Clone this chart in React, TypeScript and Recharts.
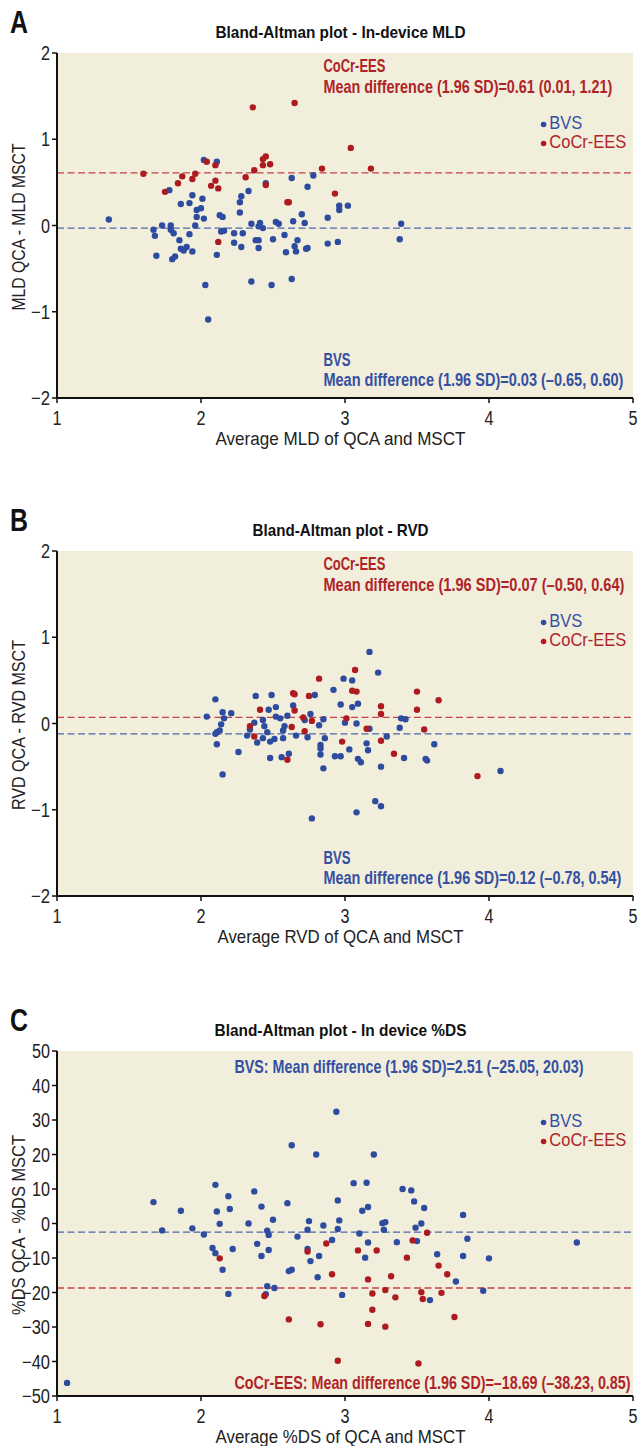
import React from 'react';
import { ScatterChart, Scatter, XAxis, YAxis, CartesianGrid, ReferenceLine, Customized } from 'recharts';

type Pt = [number, number];

const BLUE = '#2D4B9F';
const RED = '#AD1B20';
const BLUE_TXT = '#3450A2';
const RED_TXT = '#AF2428';
const BG = '#F2EEDC';
const FONT = '"Liberation Sans", Arial, Helvetica, sans-serif';

const xTicks = [1, 2, 3, 4, 5];
const mldTicks = [-2, -1, 0, 1, 2];
const rvdTicks = [-2, -1, 0, 1, 2];
const dsTicks = [-50, -40, -30, -20, -10, 0, 10, 20, 30, 40, 50];

// Panel A: In-device MLD
const mldBvs: Pt[] = [
  [1.36, 0.07], [2.02, 0.76], [2.11, 0.74], [1.78, 0.41], [1.86, 0.25], [1.92, 0.26], [1.94, 0.35], [2.01, 0.31],
  [1.97, 0.18], [2.0, 0.2], [1.97, 0.1], [2.02, 0.08], [1.96, 0.0], [1.73, 0.0], [1.79, 0.0], [1.67, -0.05],
  [1.68, -0.12], [1.79, -0.05], [1.81, -0.09], [1.92, -0.1], [1.85, -0.17], [1.86, -0.27], [1.88, -0.29], [1.9, -0.25],
  [1.94, -0.3], [1.69, -0.35], [1.8, -0.39], [1.82, -0.36], [2.03, -0.69], [2.05, -1.09], [2.11, -0.34], [2.13, 0.12],
  [2.15, 0.1], [2.14, -0.07], [2.16, -0.06], [2.23, -0.09], [2.23, -0.2], [2.28, -0.25], [2.29, -0.09], [2.27, 0.15],
  [2.27, 0.27], [2.28, 0.34], [2.33, 0.4], [2.35, 0.02], [2.35, -0.65], [2.41, 0.03], [2.4, -0.01], [2.43, -0.03],
  [2.38, -0.17], [2.4, -0.17], [2.4, -0.26], [2.45, 0.49], [2.49, -0.69], [2.5, -0.16], [2.52, 0.04], [2.54, 0.02],
  [2.58, -0.11], [2.59, -0.31], [2.63, 0.55], [2.64, 0.05], [2.63, -0.62], [2.65, -0.24], [2.66, -0.3], [2.67, -0.17],
  [2.7, 0.13], [2.72, 0.03], [2.73, -0.27], [2.74, -0.26], [2.74, 0.45], [2.78, 0.58], [2.88, 0.09], [2.88, -0.21],
  [2.95, -0.19], [2.96, 0.23], [2.96, 0.18], [3.02, 0.23], [3.39, 0.02], [3.38, -0.16],
];
const mldCocr: Pt[] = [
  [2.36, 1.37], [2.65, 1.42], [3.04, 0.9], [1.6, 0.6], [2.04, 0.74], [2.1, 0.7], [1.96, 0.6], [1.87, 0.57],
  [1.94, 0.54], [1.84, 0.49], [1.75, 0.39], [2.1, 0.52], [2.07, 0.46], [2.12, 0.43], [2.43, 0.77], [2.45, 0.8],
  [2.48, 0.71], [2.43, 0.7], [2.37, 0.64], [2.31, 0.56], [2.45, 0.47], [2.6, 0.27], [2.61, 0.27], [2.84, 0.66],
  [2.93, 0.37], [3.18, 0.66], [2.12, -0.19],
];
const mldMeans = { bvs: -0.03, cocr: 0.61 };

// Panel B: RVD
const rvdBvs: Pt[] = [
  [2.04, 0.08], [2.1, 0.28], [2.15, 0.13], [2.16, 0.06], [2.21, 0.12], [2.14, -0.01], [2.13, -0.08], [2.11, -0.1],
  [2.1, -0.12], [2.11, -0.24], [2.15, -0.59], [2.26, -0.33], [2.32, -0.14], [2.34, -0.07], [2.37, 0.01], [2.38, 0.32],
  [2.39, -0.22], [2.43, -0.17], [2.43, 0.04], [2.44, -0.03], [2.46, -0.1], [2.47, 0.16], [2.48, -0.4], [2.48, -0.21],
  [2.49, 0.33], [2.51, -0.18], [2.52, 0.19], [2.52, 0.08], [2.55, 0.06], [2.56, -0.39], [2.57, -0.17], [2.57, -0.08],
  [2.58, -0.03], [2.6, 0.09], [2.61, -0.35], [2.64, 0.21], [2.66, -0.14], [2.72, 0.04], [2.74, -0.16], [2.76, 0.11],
  [2.77, -1.1], [2.79, 0.33], [2.82, -0.02], [2.83, -0.25], [2.83, -0.29], [2.83, -0.36], [2.85, 0.05], [2.86, -0.17],
  [2.85, -0.52], [2.92, 0.39], [2.93, -0.38], [2.97, -0.38], [2.97, 0.22], [2.99, 0.52], [3.0, 0.01], [3.03, -0.3],
  [3.05, 0.5], [3.05, 0.19], [3.08, -1.03], [3.08, 0.0], [3.09, -0.41], [3.09, 0.23], [3.11, -0.45], [3.15, -0.23],
  [3.16, -0.31], [3.17, 0.83], [3.17, -0.06], [3.21, -0.9], [3.23, 0.59], [3.25, -0.5], [3.25, -0.96], [3.29, -0.15],
  [3.38, -0.05], [3.39, 0.06], [3.41, -0.4], [3.42, 0.05], [3.56, -0.41], [3.57, -0.43], [3.62, -0.24], [4.08, -0.55],
];
const rvdCocr: Pt[] = [
  [2.34, -0.03], [2.37, -0.15], [2.41, 0.16], [2.6, -0.42], [2.63, -0.04], [2.64, 0.35], [2.65, 0.34], [2.65, 0.15],
  [2.71, 0.07], [2.72, -0.09], [2.75, 0.32], [2.77, 0.03], [2.82, 0.52], [2.98, -0.21], [3.01, 0.06], [3.05, 0.38],
  [3.08, 0.37], [3.07, 0.62], [3.15, -0.06], [3.25, 0.11], [3.25, 0.2], [3.25, -0.2], [3.34, -0.35], [3.5, 0.16],
  [3.5, 0.37], [3.55, -0.07], [3.65, 0.27], [3.92, -0.61],
];
const rvdMeans = { bvs: -0.12, cocr: 0.07 };

// Panel C: In device %DS
const dsBvs: Pt[] = [
  [1.67, 6.2], [1.73, -2.0], [1.86, 3.7], [1.94, -1.4], [2.02, -3.2], [2.08, -7.1], [2.1, 11.2], [2.1, -8.6],
  [2.11, 3.5], [2.13, -0.1], [2.15, -13.4], [2.19, 7.9], [2.2, 4.2], [2.22, -7.4], [2.19, -20.4], [2.33, 0.0],
  [2.37, 9.3], [2.39, -5.9], [2.42, -9.4], [2.42, 4.9], [2.46, -2.1], [2.47, -3.3], [2.47, -7.7], [2.5, 1.1],
  [2.46, -18.2], [2.45, -20.5], [2.51, -18.7], [2.6, 5.9], [2.63, 22.7], [2.61, -13.8], [2.63, -13.4], [2.67, -3.8],
  [2.74, -1.8], [2.75, 0.7], [2.74, -7.4], [2.76, -10.9], [2.8, 20.0], [2.82, -9.4], [2.81, -15.6], [2.85, -0.6],
  [2.91, -4.8], [2.94, 32.4], [2.95, 6.7], [2.95, -1.6], [2.96, 0.9], [2.98, -20.7], [3.06, 11.7], [3.15, 11.8],
  [3.2, 20.0], [3.12, 3.7], [3.16, 4.8], [3.1, -2.9], [3.16, -5.5], [3.14, -9.9], [3.26, 0.1], [3.28, 0.4],
  [3.27, -1.8], [3.36, -5.4], [3.4, 10.0], [3.46, 9.6], [3.48, 6.4], [3.55, 4.5], [3.49, -1.2], [3.53, 0.0],
  [3.5, -5.1], [3.59, -22.2], [3.64, -8.9], [3.82, 2.5], [3.85, -4.4], [3.82, -9.4], [4.0, -10.1], [3.77, -16.8],
  [3.96, -19.5], [4.61, -5.5], [1.07, -46.2],
];
const dsCocr: Pt[] = [
  [2.13, -10.1], [2.44, -21.0], [2.61, -27.8], [2.74, -8.1], [2.87, -5.8], [2.91, -14.7], [2.83, -29.2], [3.09, -7.8],
  [3.22, -7.8], [3.16, -16.2], [3.32, -15.3], [3.43, -9.9], [3.47, -4.9], [3.19, -20.3], [3.28, -19.3], [3.35, -21.4],
  [3.19, -25.0], [3.16, -29.1], [3.28, -29.9], [3.53, -19.9], [3.54, -21.9], [3.57, -2.7], [3.65, -12.2], [3.71, -14.7],
  [3.67, -20.1], [3.76, -27.1], [2.95, -39.8], [3.51, -40.6],
];
const dsMeans = { bvs: -2.51, cocr: -18.69 };

const toRows = (pts: Pt[]) => pts.map(([x, y]) => ({ x, y }));
const fmt = (v: number) => String(v).replace('-', '\u2212');
const tickWidth = (s: string) => s.replace('\u2212', '').length * 9 + (s.startsWith('\u2212') ? 10 : 0);

const makeDot = (color: string) => (props: any) => (
  <circle cx={props.cx} cy={props.cy} r={3.2} fill={color} />
);

// Condensed text: a smaller font stretched vertically, fitted to the measured width.
function T(props: {
  x: number; y: number; w: number; size: number; cond: number; bold?: boolean; color: string;
  anchor?: 'start' | 'middle' | 'end'; rotate?: number; children: React.ReactNode;
}) {
  const rot = props.rotate ? ` rotate(${props.rotate})` : '';
  return (
    <text
      x={0}
      y={0}
      transform={`translate(${props.x},${props.y})${rot} scale(1,${(1 / props.cond).toFixed(4)})`}
      fontSize={props.size * props.cond}
      fontWeight={props.bold ? 700 : 400}
      fill={props.color}
      textAnchor={props.anchor ?? 'start'}
      textLength={props.w}
      lengthAdjust="spacingAndGlyphs"
      fontFamily={FONT}
    >
      {props.children}
    </text>
  );
}

const XTick = (props: any) => {
  const s = fmt(props.payload.value);
  return (
    <T x={props.x} y={props.y + 19} w={tickWidth(s)} size={20} cond={0.8} color="#222" anchor="middle">{s}</T>
  );
};
const YTick = (props: any) => {
  const s = fmt(props.payload.value);
  return (
    <T x={props.x} y={props.y + 7} w={tickWidth(s)} size={20} cond={0.8} color="#222" anchor="end">{s}</T>
  );
};

type Note = { text: string; x: number; y: number; w: number; color: string };

interface PanelProps {
  top: number;
  height: number;
  letter: string;
  title: string;
  titleW: number;
  bvs: Pt[];
  cocr: Pt[];
  means: { bvs: number; cocr: number };
  ticks: number[];
  yLabel: string;
  yLabelW: number;
  xLabel: string;
  xLabelW: number;
  notes: Note[];
}

const W = 642;

function Overlay({ p }: { p: PanelProps }) {
  return (
    <g>
      <T x={10} y={33} w={18} size={31} cond={0.85} bold color="#111">{p.letter}</T>
      <T x={340.5} y={37.5} w={p.titleW} size={16} cond={0.84} bold color="#111" anchor="middle">{p.title}</T>
      <T x={24.5} y={227} rotate={-90} w={p.yLabelW} size={18} cond={0.86} color="#222" anchor="middle">
        {p.yLabel}
      </T>
      <T x={340.5} y={445} w={p.xLabelW} size={18.5} cond={0.9} color="#222" anchor="middle">{p.xLabel}</T>
      {p.notes.map((n, i) => (
        <T key={i} x={n.x} y={n.y} w={n.w} size={18.5} cond={0.64} bold color={n.color}>{n.text}</T>
      ))}
      <circle cx={543.6} cy={124.5} r={2.8} fill={BLUE} />
      <T x={549.3} y={128.5} w={33} size={17.5} cond={0.9} color={BLUE_TXT}>BVS</T>
      <circle cx={543.6} cy={143.5} r={2.8} fill={RED} />
      <T x={549.3} y={147.5} w={77} size={17.5} cond={0.9} color={RED_TXT}>CoCr-EES</T>
    </g>
  );
}

function Panel(p: PanelProps) {
  const lo = p.ticks[0];
  const hi = p.ticks[p.ticks.length - 1];
  const chartH = 500;
  return (
    <div style={{ position: 'absolute', left: 0, top: p.top, width: W, height: p.height, overflow: 'hidden' }}>
      <ScatterChart width={W} height={chartH} margin={{ top: 53, right: 9, bottom: chartH - 398 - 30, left: 7 }}>
        <CartesianGrid fill={BG} horizontal={false} vertical={false} stroke="none" />
        <XAxis
          type="number"
          dataKey="x"
          domain={[1, 5]}
          ticks={xTicks}
          allowDataOverflow
          height={30}
          tickSize={5}
          tickMargin={3}
          axisLine={{ stroke: '#111', strokeWidth: 2 }}
          tickLine={{ stroke: '#111', strokeWidth: 1.5 }}
          tick={<XTick />}
        />
        <YAxis
          type="number"
          dataKey="y"
          domain={[lo, hi]}
          ticks={p.ticks}
          allowDataOverflow
          width={50}
          tickSize={5}
          tickMargin={2}
          axisLine={{ stroke: '#111', strokeWidth: 2 }}
          tickLine={{ stroke: '#111', strokeWidth: 1.5 }}
          tick={<YTick />}
        />
        <ReferenceLine y={p.means.cocr} stroke="#C44346" strokeWidth={1.3} strokeDasharray="7 3.5" ifOverflow="hidden" />
        <ReferenceLine y={p.means.bvs} stroke="#4D65A8" strokeWidth={1.3} strokeDasharray="7 3.5" ifOverflow="hidden" />
        <Scatter data={toRows(p.bvs)} fill={BLUE} shape={makeDot(BLUE)} isAnimationActive={false} />
        <Scatter data={toRows(p.cocr)} fill={RED} shape={makeDot(RED)} isAnimationActive={false} />
        <Customized component={<Overlay p={p} />} />
      </ScatterChart>
    </div>
  );
}

const panels: PanelProps[] = [
  {
    top: 0,
    height: 498,
    letter: 'A',
    title: 'Bland-Altman plot - In-device MLD',
    titleW: 250,
    bvs: mldBvs,
    cocr: mldCocr,
    means: mldMeans,
    ticks: mldTicks,
    yLabel: 'MLD QCA - MLD MSCT',
    yLabelW: 167,
    xLabel: 'Average MLD of QCA and MSCT',
    xLabelW: 250,
    notes: [
      { text: 'CoCr-EES', x: 323.4, y: 72, w: 62, color: RED_TXT },
      { text: 'Mean difference (1.96 SD)=0.61 (0.01, 1.21)', x: 323.4, y: 92.5, w: 289, color: RED_TXT },
      { text: 'BVS', x: 323.4, y: 366, w: 27, color: BLUE_TXT },
      { text: 'Mean difference (1.96 SD)=0.03 (\u20130.65, 0.60)', x: 323.4, y: 386, w: 300, color: BLUE_TXT },
    ],
  },
  {
    top: 498,
    height: 500,
    letter: 'B',
    title: 'Bland-Altman plot - RVD',
    titleW: 176,
    bvs: rvdBvs,
    cocr: rvdCocr,
    means: rvdMeans,
    ticks: rvdTicks,
    yLabel: 'RVD QCA - RVD MSCT',
    yLabelW: 170,
    xLabel: 'Average RVD of QCA and MSCT',
    xLabelW: 246,
    notes: [
      { text: 'CoCr-EES', x: 323.4, y: 72, w: 62, color: RED_TXT },
      { text: 'Mean difference (1.96 SD)=0.07 (\u20130.50, 0.64)', x: 323.4, y: 92.5, w: 301, color: RED_TXT },
      { text: 'BVS', x: 323.4, y: 366, w: 27, color: BLUE_TXT },
      { text: 'Mean difference (1.96 SD)=0.12 (\u20130.78, 0.54)', x: 323.4, y: 386, w: 298, color: BLUE_TXT },
    ],
  },
  {
    top: 998,
    height: 448,
    letter: 'C',
    title: 'Bland-Altman plot - In device %DS',
    titleW: 252,
    bvs: dsBvs,
    cocr: dsCocr,
    means: dsMeans,
    ticks: dsTicks,
    yLabel: '%DS QCA - %DS MSCT',
    yLabelW: 180,
    xLabel: 'Average %DS of QCA and MSCT',
    xLabelW: 250,
    notes: [
      { text: 'BVS: Mean difference (1.96 SD)=2.51 (\u201325.05, 20.03)', x: 234.5, y: 75, w: 349, color: BLUE_TXT },
      { text: 'CoCr-EES: Mean difference (1.96 SD)=\u201318.69 (\u201338.23, 0.85)', x: 234.5, y: 391, w: 396, color: RED_TXT },
    ],
  },
];

export default function App() {
  return (
    <div style={{ position: 'absolute', left: 0, top: 0, width: W, height: 1446, background: '#fff', overflow: 'hidden' }}>
      {panels.map((p) => (
        <Panel key={p.letter} {...p} />
      ))}
    </div>
  );
}
